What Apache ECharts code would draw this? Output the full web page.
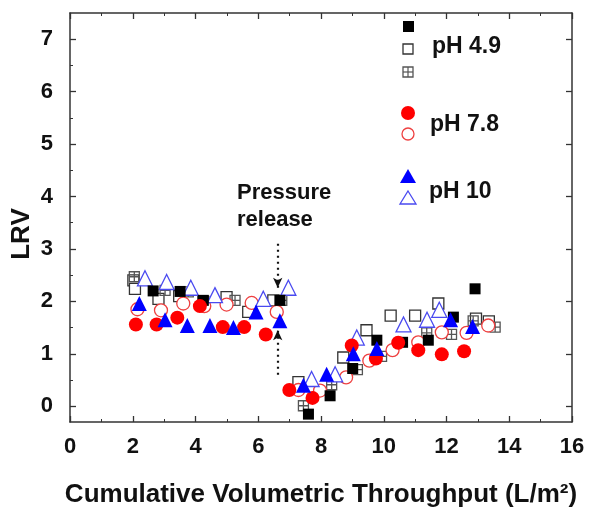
<!DOCTYPE html>
<html>
<head>
<meta charset="utf-8">
<script src="https://cdn.jsdelivr.net/npm/echarts@6/dist/echarts.min.js"></script>
<style>
  html, body { margin: 0; padding: 0; background: #fff; }
  #chart { width: 590px; height: 510px; }
</style>
</head>
<body>
<div id="chart"></div>
<script>
// LRV vs cumulative throughput, three pH values, filled / open / hatched runs
const ph49Filled = [[2.65,2.20],[3.51,2.19],[4.25,2.02],[6.69,2.02],[7.60,-0.15],[8.29,0.20],[9.01,0.72],[9.78,1.26],[10.60,1.22],[11.42,1.26],[12.22,1.70],[12.91,2.24]];
const ph49Open = [[2.02,2.40],[2.07,2.24],[2.82,2.05],[3.48,2.10],[4.25,1.99],[4.99,2.08],[5.68,1.80],[6.48,2.02],[7.28,0.46],[8.71,0.93],[9.45,1.45],[10.22,1.73],[11.0,1.73],[11.74,1.96],[12.94,1.67],[13.35,1.62]];
const ph49Hatched = [[2.05,2.47],[3.03,2.21],[3.77,2.18],[5.26,2.02],[6.75,2.02],[7.44,0.01],[8.34,0.41],[9.16,0.70],[9.93,0.95],[11.37,1.40],[12.16,1.37],[12.85,1.63],[13.55,1.51]];
const ph78Filled = [[2.10,1.56],[2.76,1.56],[3.42,1.69],[4.14,1.91],[4.87,1.51],[5.55,1.51],[6.24,1.37],[6.99,0.31],[7.73,0.16],[8.98,1.16],[9.75,0.91],[10.46,1.21],[11.10,1.07],[11.85,0.99],[12.56,1.05]];
const ph78Open = [[2.15,1.85],[2.90,1.83],[3.61,1.96],[4.28,1.91],[4.99,1.94],[5.79,1.97],[6.59,1.80],[7.28,0.31],[7.97,0.30],[8.80,0.55],[9.54,0.87],[10.28,1.07],[11.10,1.22],[11.85,1.41],[12.64,1.40],[13.33,1.54]];
const ph10Filled = [[2.21,1.96],[3.03,1.65],[3.74,1.54],[4.46,1.54],[5.21,1.50],[5.93,1.80],[6.69,1.63],[7.44,0.40],[8.18,0.61],[9.03,1.00],[9.78,1.10],[12.13,1.65],[12.83,1.52]];
const ph10Open = [[2.39,2.44],[3.08,2.37],[3.85,2.26],[4.62,2.12],[6.16,2.05],[6.96,2.26],[7.70,0.52],[8.45,0.61],[9.14,1.31],[10.63,1.56],[11.38,1.65],[11.77,1.84]];

const releaseX = 6.62;
const releaseArrows = [[3.1, 2.26], [0.6, 1.45]];
const yTicks = [0, 1, 2, 3, 4, 5, 6, 7];
const yMinorTicks = [0.5, 1.5, 2.5, 3.5, 4.5, 5.5, 6.5];

const font = '"Liberation Sans", Arial, sans-serif';
const hatchPath = 'path://M0,0H10V10H0Z M5,0V10 M0,5H10';

function sc(name, data, symbol, size, fill, border, z) {
   return {
      name: name, type: 'scatter', data: data,
      symbol: symbol, symbolSize: size, z: z || 2,
      itemStyle: { color: fill, borderColor: border, borderWidth: border ? 1.3 : 0, opacity: 1 }
   };
}

const chart = echarts.init(document.getElementById('chart'));
const axisLine = { show: true, onZero: false, lineStyle: { color: '#333', width: 1.5 } };
const tickStyle = { color: '#333', width: 1.3 };
const series = [
   sc('pH 4.9 open', ph49Open, 'rect', 11, '#fff', '#333'),
   sc('pH 4.9 hatched', ph49Hatched, hatchPath, 10, 'rgba(0,0,0,0)', '#555'),
   sc('pH 4.9', ph49Filled, 'rect', 11, '#000', null, 3),
   sc('pH 7.8 open', ph78Open, 'circle', 13, '#fff', '#ee4040'),
   sc('pH 7.8', ph78Filled, 'circle', 14, '#ff0000', null, 3),
   sc('pH 10 open', ph10Open, 'triangle', 15, '#fff', '#4a4af0'),
   sc('pH 10', ph10Filled, 'triangle', 15, '#0000ff', null, 3)
];
// dotted arrows marking the pressure release
series.push({
   type: 'scatter', data: [], silent: true,
   markLine: {
      silent: true, symbol: ['none', 'arrow'], symbolSize: [7, 10],
      label: { show: false },
      lineStyle: { type: [2, 4], color: '#111', width: 2.2 },
      data: releaseArrows.map(a => [{ coord: [releaseX, a[0]] }, { coord: [releaseX, a[1]] }])
   }
});

chart.setOption({
   animation: false,
   grid: { left: 70, right: 18, top: 13, bottom: 88, outerBoundsMode: 'none', containLabel: false },
   xAxis: [{
      type: 'value', min: 0, max: 16, interval: 2,
      name: 'Cumulative Volumetric Throughput (L/m²)', nameLocation: 'middle', nameGap: 60,
      nameTextStyle: { fontFamily: font, fontWeight: 'bold', fontSize: 26, color: '#111' },
      axisLine: axisLine,
      axisTick: { inside: true, length: 6, lineStyle: tickStyle },
      minorTick: { show: true, splitNumber: 2, length: 3, lineStyle: { color: '#333' } },
      axisLabel: { fontFamily: font, fontWeight: 'bold', fontSize: 22, color: '#111', margin: 14 },
      splitLine: { show: false }
   }, {
      type: 'value', min: 0, max: 16, interval: 2, position: 'top',
      axisLine: axisLine,
      axisTick: { inside: true, length: 6, lineStyle: tickStyle },
      minorTick: { show: true, splitNumber: 2, length: 3, lineStyle: { color: '#333' } },
      axisLabel: { show: false }, splitLine: { show: false }
   }],
   yAxis: [{
      type: 'value', min: -0.3, max: 7.5,
      axisLine: axisLine,
      axisTick: { inside: true, length: 6, lineStyle: tickStyle, customValues: yTicks },
      axisLabel: { fontFamily: font, fontWeight: 'bold', fontSize: 22, color: '#111', margin: 17, customValues: yTicks },
      splitLine: { show: false }
   }, {
      type: 'value', min: -0.3, max: 7.5, position: 'left',
      axisLine: { show: false, onZero: false },
      axisTick: { inside: true, length: 3, lineStyle: { color: '#333' }, customValues: yMinorTicks },
      axisLabel: { show: false }, splitLine: { show: false }
   }, {
      type: 'value', min: -0.3, max: 7.5, position: 'right',
      axisLine: axisLine,
      axisTick: { inside: true, length: 6, lineStyle: tickStyle, customValues: yTicks },
      axisLabel: { show: false }, splitLine: { show: false }
   }],
   graphic: [
      { type: 'text', x: 22, y: 234, rotation: Math.PI / 2, style: { text: 'LRV', font: 'bold 26px ' + font, fill: '#111', align: 'center', verticalAlign: 'middle' } },
      { type: 'text', left: 237, top: 179, style: { text: 'Pressure\nrelease', font: 'bold 22px ' + font, fill: '#111', lineHeight: 27 } },
      // legend block
      { type: 'rect', shape: { x: 403, y: 21, width: 11, height: 11 }, style: { fill: '#000' } },
      { type: 'rect', shape: { x: 403, y: 44, width: 10, height: 10 }, style: { fill: '#fff', stroke: '#333', lineWidth: 1.3 } },
      { type: 'rect', shape: { x: 403, y: 67, width: 10, height: 10 }, style: { fill: '#fff', stroke: '#555', lineWidth: 1.3 } },
      { type: 'line', shape: { x1: 408, y1: 67, x2: 408, y2: 77 }, style: { stroke: '#555', lineWidth: 1.2 } },
      { type: 'line', shape: { x1: 403, y1: 72, x2: 413, y2: 72 }, style: { stroke: '#555', lineWidth: 1.2 } },
      { type: 'text', left: 432, top: 35, style: { text: 'pH 4.9', font: 'bold 23px ' + font, fill: '#111' } },
      { type: 'circle', shape: { cx: 408, cy: 113, r: 7 }, style: { fill: '#ff0000' } },
      { type: 'circle', shape: { cx: 408, cy: 134, r: 6 }, style: { fill: '#fff', stroke: '#ee4040', lineWidth: 1.3 } },
      { type: 'text', left: 430, top: 113, style: { text: 'pH 7.8', font: 'bold 23px ' + font, fill: '#111' } },
      { type: 'polygon', shape: { points: [[408, 169], [416, 183], [400, 183]] }, style: { fill: '#0000ff' } },
      { type: 'polygon', shape: { points: [[408, 191], [416, 204], [400, 204]] }, style: { fill: '#fff', stroke: '#4a4af0', lineWidth: 1.3 } },
      { type: 'text', left: 429, top: 180, style: { text: 'pH 10', font: 'bold 23px ' + font, fill: '#111' } }
   ],
   series: series
});
</script>
</body>
</html>
